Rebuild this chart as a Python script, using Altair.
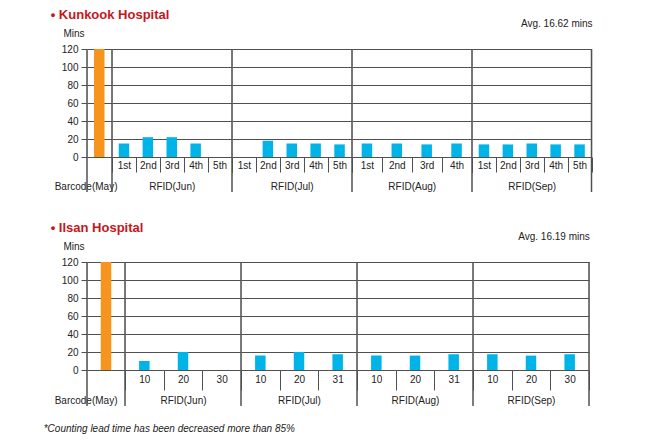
import altair as alt
import pandas as pd

FONT = "Liberation Sans"
GRID = "#505050"
TEXT = "#222222"
RED = "#c4161c"
ORANGE = "#f7941d"
BLUE = "#00b4e8"

y_ticks = [0, 20, 40, 60, 80, 100, 120]
groups = ["Barcode(May)", "RFID(Jun)", "RFID(Jul)", "RFID(Aug)", "RFID(Sep)"]

# Kunkook Hospital
k_title = "• Kunkook Hospital"
k_avg = "Avg. 16.62 mins"
k_subs = [["May"],
          ["1st", "2nd", "3rd", "4th", "5th"],
          ["1st", "2nd", "3rd", "4th", "5th"],
          ["1st", "2nd", "3rd", "4th"],
          ["1st", "2nd", "3rd", "4th", "5th"]]
k_vals = [[120],
          [15, 22, 22, 15, None],
          [None, 18, 15, 15, 14],
          [15, 15, 14, 15],
          [14, 14, 15, 14, 14]]

# Ilsan Hospital
i_title = "• Ilsan Hospital"
i_avg = "Avg. 16.19 mins"
i_subs = [["May"],
          ["10", "20", "30"],
          ["10", "20", "31"],
          ["10", "20", "31"],
          ["10", "20", "30"]]
i_vals = [[120],
          [10, 20, None],
          [16, 20, 17.5],
          [16, 16, 17.5],
          [17.5, 16, 17.5]]

footnote = "*Counting lead time has been decreased more than 85%"

H = 108


def panel(idx, group, subs, vals, width, tick_size, label_pad, title_y, avg):
    df = pd.DataFrame({"sub": subs, "value": vals})
    first = idx == 0
    last = idx == 4
    if first:
        xaxis = alt.Axis(title=group, labels=False, ticks=False, domain=False,
                         grid=False, titleX=30, titleAlign="right", titleY=title_y,
                         titleBaseline="middle", titleFontSize=10,
                         titleFontWeight="normal", titleColor=TEXT, titleFont=FONT)
        yaxis = alt.Axis(values=y_ticks, grid=True, gridColor=GRID, gridWidth=1,
                         domain=False, ticks=True, tickSize=6, tickColor=GRID,
                         labelPadding=3, labelFontSize=10, labelColor=TEXT,
                         labelFont=FONT, title="Mins", titleAngle=0,
                         titleAlign="left", titleBaseline="middle", titleX=-24,
                         titleY=-16, titleFontSize=10, titleFontWeight="normal",
                         titleColor=TEXT, titleFont=FONT)
        color = ORANGE
    else:
        xaxis = alt.Axis(title=group, labelAngle=0, labelFontSize=10,
                         labelColor=TEXT, labelFont=FONT, labelPadding=label_pad,
                         ticks=True, tickBand="extent", tickSize=tick_size,
                         tickColor=GRID, tickWidth=1, domain=False, grid=False,
                         titleY=title_y, titleBaseline="middle", titleFontSize=10,
                         titleFontWeight="normal", titleColor=TEXT, titleFont=FONT)
        yaxis = alt.Axis(values=y_ticks, grid=True, gridColor=GRID, gridWidth=1,
                         labels=False, ticks=False, domain=False, title=None)
        color = BLUE

    bars = alt.Chart(df).mark_bar(size=10.5, color=color).encode(
        x=alt.X("sub:N", sort=subs,
                scale=alt.Scale(domain=subs, paddingInner=0, paddingOuter=0),
                axis=xaxis),
        y=alt.Y("value:Q", scale=alt.Scale(domain=[0, 120]), axis=yaxis),
    )
    one = alt.Data(values=[{"k": 1}])
    layers = [bars,
              alt.Chart(one).mark_rule(color=GRID, strokeWidth=1.5).encode(
                  x=alt.value(0), y=alt.value(0), y2=alt.value(H + title_y + 6))]
    if last:
        layers.append(alt.Chart(one).mark_rule(color=GRID, strokeWidth=1.5).encode(
            x=alt.value(width), y=alt.value(0), y2=alt.value(H + title_y + 6)))
    props = dict(width=width, height=H)
    if last:
        props["title"] = alt.TitleParams(avg, anchor="end", fontSize=10,
                                         fontWeight="normal", color=TEXT,
                                         font=FONT, offset=19)
    return alt.layer(*layers).properties(**props)


def hospital(title, subs, vals, widths, tick_size, label_pad, title_y, avg):
    panels = [panel(i, groups[i], subs[i], vals[i], widths[i], tick_size,
                    label_pad, title_y, avg) for i in range(5)]
    return alt.hconcat(*panels, spacing=0, bounds="flush").resolve_scale(
        x="independent", y="independent").properties(
        title=alt.TitleParams(title, anchor="start", fontSize=13,
                              fontWeight="bold", color=RED, font=FONT,
                              dx=-3, offset=-3))


top = hospital(k_title, k_subs, k_vals, [24.5, 119.5, 119.5, 119.5, 119.5],
               15, -12, 29, k_avg)
bottom = hospital(i_title, i_subs, i_vals, [38, 116, 116, 116, 116],
                  20, -16, 30, i_avg)

chart = alt.vconcat(top, bottom, spacing=27).resolve_scale(
    x="independent", y="independent").properties(
    title=alt.TitleParams(footnote, orient="bottom", anchor="start",
                          fontSize=10, fontStyle="italic", fontWeight="normal",
                          color=TEXT, font=FONT, dx=-7, offset=17),
    padding={"left": 35, "top": 0, "right": 5, "bottom": 0},
).configure_view(stroke=None).configure(background="white")

chart.save("out.html", embed_options={"renderer": "svg", "actions": False})
